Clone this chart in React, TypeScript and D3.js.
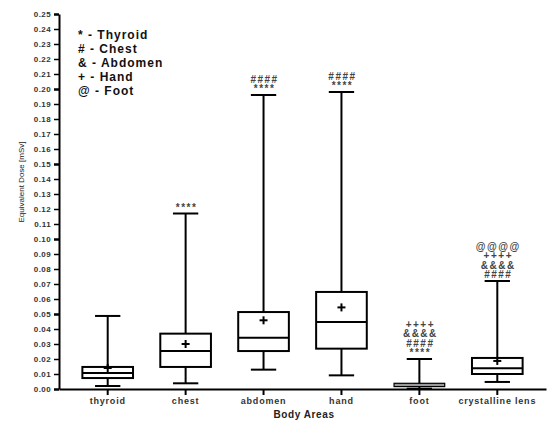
import { useEffect, useRef } from 'react'
import * as d3 from 'd3'

const categories = ['thyroid', 'chest', 'abdomen', 'hand', 'foot', 'crystalline lens']
const whiskerLow = [0.002, 0.0038, 0.0129, 0.0091, 0.0002, 0.0047]
const q1 = [0.0073, 0.0147, 0.0253, 0.0269, 0.0016, 0.010]
const median = [0.0107, 0.0253, 0.0342, 0.0447, 0.0028, 0.0138]
const q3 = [0.0147, 0.0369, 0.0513, 0.0647, 0.0038, 0.0207]
const whiskerHigh = [0.0487, 0.117, 0.196, 0.198, 0.020, 0.072]
const means = [0.014, 0.030, 0.0458, 0.0544, 0.003, 0.0187]
// significance marks, top line first
const marks = [
  [],
  ['****'],
  ['####', '****'],
  ['####', '****'],
  ['++++', '&&&&', '####', '****'],
  ['@@@@', '++++', '&&&&', '####'],
]
const legendLines = ['* - Thyroid', '# - Chest', '& - Abdomen', '+ - Hand', '@ - Foot']
const yTicks = d3.range(0, 26).map(i => i / 100)

const App = () => {
  const svgRef = useRef(null)
  const width = 547
  const height = 422
  const margin = { top: 14, right: 1, bottom: 33, left: 59 }

  useEffect(() => {
    const svg = d3.select(svgRef.current)
    svg.selectAll('*').remove()
    const font = 'Liberation Sans, Arial, sans-serif'

    const x = d3.scaleBand()
      .domain(categories)
      .range([margin.left, width - margin.right])
      .paddingInner(0.35)
      .paddingOuter(0.3)

    const y = d3.scaleLinear()
      .domain([0, 0.25])
      .range([height - margin.bottom, margin.top])

    const yAxis = svg.append('g')
      .attr('transform', `translate(${margin.left},0)`)
      .call(d3.axisLeft(y).tickValues(yTicks).tickFormat(d3.format('.2f')).tickSize(5).tickSizeOuter(0))
    yAxis.select('.domain').attr('stroke', '#000').attr('stroke-width', 2)
    yAxis.selectAll('.tick line').attr('stroke', '#000')
      .attr('stroke-width', (d) => (Math.round(d * 100) % 5 === 0 ? 2.5 : 1.5))
    yAxis.selectAll('.tick text')
      .attr('font-family', font).attr('font-size', 8).attr('font-weight', 'bold').attr('fill', '#333')
      .attr('letter-spacing', '0.4')
      .attr('x', -8)

    const xAxis = svg.append('g')
      .attr('transform', `translate(0,${height - margin.bottom})`)
      .call(d3.axisBottom(x).tickSize(6).tickSizeOuter(0))
    xAxis.select('.domain').attr('stroke', '#000').attr('stroke-width', 2)
    xAxis.selectAll('.tick line').attr('stroke', '#000').attr('stroke-width', 2)
    xAxis.selectAll('.tick text')
      .attr('font-family', font).attr('font-size', 9).attr('font-weight', 'bold').attr('fill', '#333')
      .attr('letter-spacing', '0.8')
      .attr('y', 9)

    const bw = x.bandwidth()
    categories.forEach((c, i) => {
      const cx = x(c) + bw / 2
      const isFoot = c === 'foot'
      const g = svg.append('g').attr('stroke', '#000').attr('stroke-width', 2)

      g.append('line')
        .attr('x1', cx).attr('x2', cx)
        .attr('y1', y(whiskerHigh[i])).attr('y2', y(whiskerLow[i]))
      g.append('line')
        .attr('x1', cx - bw / 4).attr('x2', cx + bw / 4)
        .attr('y1', y(whiskerHigh[i])).attr('y2', y(whiskerHigh[i]))
      g.append('line')
        .attr('x1', cx - bw / 4).attr('x2', cx + bw / 4)
        .attr('y1', y(whiskerLow[i])).attr('y2', y(whiskerLow[i]))
      g.append('rect')
        .attr('x', x(c)).attr('width', bw)
        .attr('y', y(q3[i])).attr('height', y(q1[i]) - y(q3[i]))
        .attr('fill', isFoot ? '#9a9a9a' : '#fff')
        .attr('stroke-width', isFoot ? 1.2 : 2)
      if (!isFoot) {
        g.append('line')
          .attr('x1', x(c)).attr('x2', x(c) + bw)
          .attr('y1', y(median[i])).attr('y2', y(median[i]))
      }

      // mean marker
      const my = y(means[i])
      if (!isFoot) {
        g.append('line').attr('x1', cx - 4).attr('x2', cx + 4).attr('y1', my).attr('y2', my)
        g.append('line').attr('x1', cx).attr('x2', cx).attr('y1', my - 4).attr('y2', my + 4)
      }

      const n = marks[i].length
      marks[i].forEach((m, k) => {
        svg.append('text')
          .attr('x', cx + 1)
          .attr('y', y(whiskerHigh[i]) - 3 - (n - 1 - k) * 9.5)
          .attr('text-anchor', 'middle')
          .attr('font-family', font)
          .attr('font-size', 10)
          .attr('font-weight', 'bold')
          .attr('fill', '#444')
          .attr('letter-spacing', '1.5')
          .text(m)
      })
    })

    legendLines.forEach((t, i) => {
      svg.append('text')
        .attr('x', 78)
        .attr('y', 39 + i * 14)
        .attr('font-family', font)
        .attr('font-size', 12)
        .attr('font-weight', 'bold')
        .attr('fill', '#111')
        .attr('letter-spacing', '1')
        .text(t)
    })

    svg.append('text')
      .attr('transform', 'rotate(-90)')
      .attr('x', -182)
      .attr('y', 24)
      .attr('text-anchor', 'middle')
      .attr('font-family', font)
      .attr('font-size', 8)
      .attr('fill', '#222')
      .text('Equivalent Dose [mSv]')

    svg.append('text')
      .attr('x', 304)
      .attr('y', 418)
      .attr('text-anchor', 'middle')
      .attr('font-family', font)
      .attr('font-size', 10)
      .attr('font-weight', 'bold')
      .attr('fill', '#222')
      .attr('letter-spacing', '0.6')
      .text('Body Areas')
  }, [])

  return (
    <svg ref={svgRef} width={width} height={height}
      style={{ position: 'absolute', left: 0, top: 0, background: '#fff' }}></svg>
  )
}

export default App
